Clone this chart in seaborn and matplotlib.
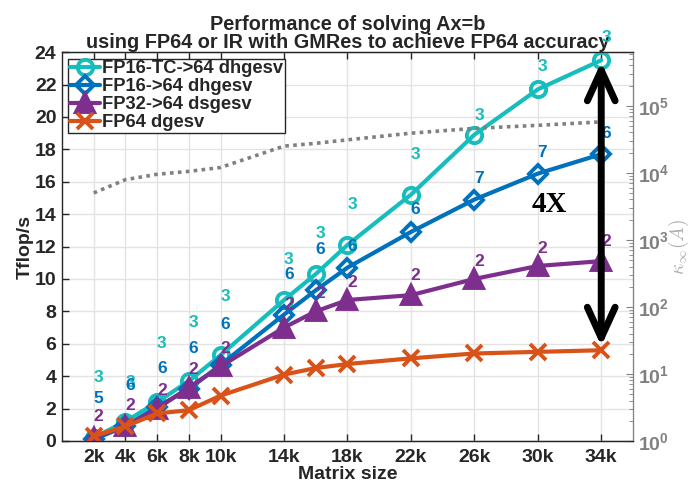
import matplotlib
matplotlib.use("Agg")
import matplotlib.pyplot as plt
import numpy as np
import seaborn as sns

# matrix sizes (k) and Tflop/s per solver
sizes = [2, 4, 6, 8, 10, 14, 16, 18, 22, 26, 30, 34]
fp16tc = [0.2, 1.2, 2.4, 3.7, 5.3, 8.7, 10.3, 12.1, 15.2, 18.9, 21.7, 23.5]
fp16 = [0.1, 0.9, 2.1, 3.2, 4.7, 7.8, 9.3, 10.7, 12.9, 14.9, 16.5, 17.7]
fp32 = [0.2, 0.9, 2.0, 3.3, 4.6, 7.0, 8.0, 8.7, 9.0, 10.0, 10.8, 11.1]
fp64 = [0.3, 0.9, 1.7, 1.9, 2.8, 4.1, 4.5, 4.75, 5.1, 5.4, 5.5, 5.6]

# condition number kappa_inf(A), right axis
kappa = [5000, 7900, 9500, 10500, 12000, 25000, 27500, 31000, 39000, 46000, 51000, 57500]

# iteration counts and where they are written
iters_tc = [3] * 12
iters_16 = [5, 6, 6, 6, 6, 6, 6, 6, 6, 7, 7, 6]
iters_32 = [2] * 12
lab_y_tc = [3.9, 3.6, 6.0, 7.3, 8.9, 11.2, 12.8, 14.6, 17.7, 20.1, 23.1, 24.9]
lab_y_16 = [2.6, 3.4, 4.5, 5.7, 7.2, 10.3, 11.8, 12.0, 14.3, 16.2, 17.8, 19.0]
lab_y_32 = [1.5, 2.2, 3.1, 4.4, 5.7, 8.4, 9.1, 9.8, 10.2, 11.1, 11.9, 12.3]

xticks = [2, 4, 6, 8, 10, 14, 18, 22, 26, 30, 34]
xticklabels = ["2k", "4k", "6k", "8k", "10k", "14k", "18k", "22k", "26k", "30k", "34k"]

c_tc = "#17BDBD"
c_16 = "#0072BD"
c_32 = "#7E2F8E"
c_64 = "#D95319"
dark = "#262626"
grey = "#808080"

sns.set_style("ticks")
plt.rcParams["font.family"] = ["Liberation Sans", "DejaVu Sans"]
plt.rcParams["font.weight"] = "bold"
plt.rcParams["axes.labelweight"] = "bold"
plt.rcParams["axes.titleweight"] = "bold"

fig = plt.figure(figsize=(6.91, 4.87), dpi=100)
ax = fig.add_axes([0.0897, 0.0945, 0.8263, 0.7985])

series = [
    ("FP16-TC->64 dhgesv", fp16tc, c_tc, "o", "none", 11),
    ("FP16->64 dhgesv", fp16, c_16, "D", "none", 9.5),
    ("FP32->64 dsgesv", fp32, c_32, "^", c_32, 13),
    ("FP64 dgesv", fp64, c_64, "x", c_64, 11),
]
for name, vals, col, mk, mfc, ms in series:
    sns.lineplot(x=sizes, y=vals, ax=ax, color=col, marker=mk, markersize=ms,
                 markerfacecolor=mfc, markeredgecolor=col, markeredgewidth=2.8,
                 linewidth=3, label=name, zorder=3)

for xs, ys, its, col in [(sizes, lab_y_tc, iters_tc, c_tc),
                         (sizes, lab_y_16, iters_16, c_16),
                         (sizes, lab_y_32, iters_32, c_32)]:
    for xv, yv, n in zip(xs, ys, its):
        ax.text(xv + 0.3, yv, str(n), color=col, fontsize=12.5, fontweight="bold",
                ha="center", va="center", clip_on=False, zorder=4)

ax.set_xlim(0, 36)
ax.set_ylim(0, 24)
ax.set_xticks(xticks)
ax.set_xticklabels(xticklabels)
ax.set_yticks(np.arange(0, 25, 2))
ax.grid(True, color="#e3e3e3", linewidth=1)
ax.set_axisbelow(True)
ax.tick_params(direction="in", top=True, labelsize=14, colors=dark, length=5, width=1, pad=4)
ax.tick_params(axis="x", pad=6)
for s in ["left", "bottom", "top"]:
    ax.spines[s].set_color(dark)
    ax.spines[s].set_linewidth(1)
ax.set_xlabel("Matrix size", fontsize=14, color=dark, labelpad=0)
ax.set_ylabel("Tflop/s", fontsize=14, color=dark, labelpad=1)
ax.set_title("Performance of solving Ax=b\nusing FP64 or IR with GMRes to achieve FP64 accuracy",
             fontsize=14.3, color=dark, pad=3, linespacing=0.95)

leg = ax.legend(loc="upper left", fontsize=13.2, frameon=True, fancybox=False,
                framealpha=1, edgecolor=dark, borderpad=0.1, labelspacing=0.05,
                handlelength=1.6, handletextpad=0.15, borderaxespad=0.35)
leg.get_frame().set_linewidth(1)

ax.annotate("", xy=(34, 23.4), xytext=(34, 5.85),
            arrowprops=dict(arrowstyle="<->,head_length=1.1,head_width=0.5",
                            lw=5, color="black", mutation_scale=20,
                            shrinkA=0, shrinkB=0), zorder=5)
ax.text(30.7, 14.6, "4X", fontsize=21, fontweight="bold", ha="center", va="center",
        family=["Liberation Serif", "DejaVu Serif"], color="black", zorder=5)

ax2 = ax.twinx()
sns.lineplot(x=sizes, y=kappa, ax=ax2, color=grey, linestyle=(0, (1, 1.2)),
             linewidth=2.6)
ax2.set_yscale("log")
ax2.set_ylim(1, 10 ** 5.8)
ax2.tick_params(which="both", direction="in", colors=grey, labelsize=14)
ax2.tick_params(which="major", length=5)
ax2.tick_params(which="minor", length=3)
ax2.spines["right"].set_color(grey)
ax2.spines["left"].set_visible(False)
ax2.spines["top"].set_color(dark)
ax2.spines["bottom"].set_color(dark)
ax2.set_ylabel(r"$\kappa_{\infty}(\mathit{A})$", color="#b0b0b0", fontsize=14,
               math_fontfamily="cm", labelpad=-2)

fig.savefig("out.png", dpi=100)
